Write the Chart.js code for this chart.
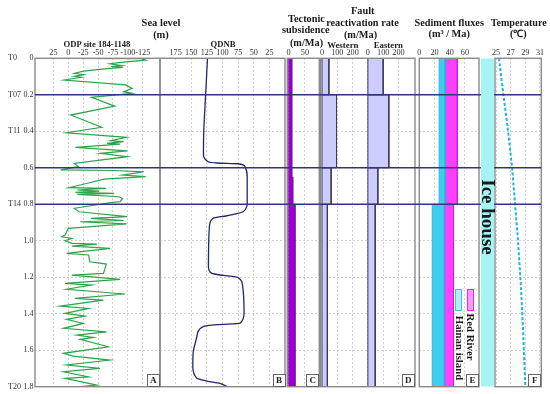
<!DOCTYPE html>
<html><head><meta charset="utf-8">
<script src="https://cdn.jsdelivr.net/npm/chart.js@4.4.1/dist/chart.umd.min.js"></script>
<style>
html,body{margin:0;padding:0;background:#fff;}
#wrap{position:relative;width:550px;height:394px;overflow:hidden;font-family:'Liberation Serif','Times New Roman',serif;}
#wrap canvas{position:absolute;left:0;top:0;}
.t{position:absolute;transform:translate(-50%,-50%);white-space:nowrap;font-weight:bold;color:#1a1a1a;line-height:1;z-index:10;}
.r{position:absolute;transform:translate(-50%,-50%) rotate(90deg);white-space:nowrap;font-weight:bold;color:#1a1a1a;line-height:1;z-index:10;}
.lb{position:absolute;border:1px solid #666;background:#fff;font-weight:bold;font-size:9px;line-height:10px;text-align:center;box-sizing:border-box;z-index:10;color:#222;}
.lg{position:absolute;box-sizing:border-box;z-index:10;}
</style></head>
<body>
<div id="wrap">
<canvas id="cA" width="550" height="394" style="z-index:1"></canvas>
<canvas id="cB" width="550" height="394" style="z-index:1"></canvas>
<canvas id="cC" width="550" height="394" style="z-index:1"></canvas>
<canvas id="cD" width="550" height="394" style="z-index:1"></canvas>
<canvas id="cE" width="550" height="394" style="z-index:1"></canvas>
<canvas id="cF" width="550" height="394" style="z-index:1"></canvas>
<canvas id="cL" width="550" height="394" style="z-index:2"></canvas>
<canvas id="cI" width="550" height="394" style="z-index:3"></canvas>

<div class="t" style="left:161px;top:22.5px;font-size:10.5px">Sea level</div>
<div class="t" style="left:161px;top:35px;font-size:10.5px">(m)</div>
<div class="t" style="left:97px;top:44px;font-size:8.6px">ODP site 184-1148</div>
<div class="t" style="left:223px;top:43.5px;font-size:8.6px">QDNB</div>
<div class="t" style="left:306.5px;top:18.8px;font-size:10.3px">Tectonic</div>
<div class="t" style="left:305.8px;top:30.3px;font-size:10.3px">subsidence</div>
<div class="t" style="left:306.5px;top:43px;font-size:10.3px">(m/Ma)</div>
<div class="t" style="left:362.8px;top:11.2px;font-size:10.3px">Fault</div>
<div class="t" style="left:362.5px;top:23.3px;font-size:10.3px">reactivation rate</div>
<div class="t" style="left:360.5px;top:35.3px;font-size:10.3px">(m/Ma)</div>
<div class="t" style="left:342.8px;top:44.5px;font-size:8.8px">Western</div>
<div class="t" style="left:388.3px;top:44.5px;font-size:8.8px">Eastern</div>
<div class="t" style="left:449.2px;top:22.5px;font-size:10.3px">Sediment fluxes</div>
<div class="t" style="left:449.2px;top:34.2px;font-size:10.3px">(m³ / Ma)</div>
<div class="t" style="left:518.7px;top:22.5px;font-size:10.1px">Temperature</div>
<div class="t" style="left:518.3px;top:34.2px;font-size:10.1px">(℃)</div>

<div class="r" style="left:487.5px;top:216.5px;font-size:19px">Ice house</div>

<div class="lg" style="left:455px;top:289px;width:7px;height:22px;background:#b6eef8;border:1px solid #38c8e8"></div>
<div class="lg" style="left:467.3px;top:289px;width:7px;height:22px;background:#ff9cff;border:1px solid #ee22ee"></div>
<div class="r" style="left:460px;top:348px;font-size:10.8px">Hainan island</div>
<div class="r" style="left:471px;top:336.5px;font-size:10.8px">Red River</div>

<div class="lb" style="left:146.7px;top:374px;width:13px;height:12.5px">A</div>
<div class="lb" style="left:272.5px;top:374px;width:13px;height:12.5px">B</div>
<div class="lb" style="left:306.3px;top:374px;width:13px;height:12.5px">C</div>
<div class="lb" style="left:401.5px;top:374px;width:13.5px;height:12.5px">D</div>
<div class="lb" style="left:466px;top:374px;width:13px;height:12.5px">E</div>
<div class="lb" style="left:528.3px;top:374px;width:13px;height:12.5px">F</div>
</div>

<script>
// ---------------- DATA ----------------
const depthTicks = [0, 0.2, 0.4, 0.6, 0.8, 1.0, 1.2, 1.4, 1.6, 1.8];
const horizonNames = ['T0', 'T07', 'T11', 'T14', 'T20'];
const horizonNameDepths = [0, 0.2, 0.4, 0.8, 1.8];
const horizonLineDepths = [0.2, 0.6, 0.8];

// A: ODP site 184-1148 sea level (m)
const odpTicks = [25, 0, -25, -50, -75, -100, -125];
const odpValues = [5, -122, -130, -88, -70, -90, -72, -92, -60, -26, -10, -26, -10, -22, 7, -96, -107, -93, -107, -39, -78, -4, -56, 3, -98, -71, -93, -65, -87, -12, -99, -54, -99, -10, -17, 13, -77, -127, -91, -130, -60, -32, -1, -63, -15, -52, -12, -77, -15, -85, -91, -87, -74, -10, -18, -99, -38, -93, -20, -98, 0, 5.5, 11, -6, 5.5, -6, -48, -6, -70, 3, -34, -36, -64, -59, -6, -87, 5.5, -39, 3, -95, -11, -59, 14, -34, 5.5, -28, 3, -25, 8, -64, -14, -42, -20, -67, 8, -8, -70, 3, -53, 8, -34, 5.5, -48, -20];
const odpDepths = [0, 0.002, 0.01, 0.022, 0.03, 0.04, 0.045, 0.05, 0.058, 0.07, 0.082, 0.09, 0.098, 0.104, 0.119, 0.146, 0.165, 0.183, 0.192, 0.214, 0.262, 0.311, 0.378, 0.408, 0.433, 0.452, 0.457, 0.466, 0.47, 0.488, 0.507, 0.521, 0.539, 0.576, 0.594, 0.612, 0.615, 0.622, 0.64, 0.649, 0.662, 0.685, 0.709, 0.713, 0.722, 0.728, 0.735, 0.74, 0.746, 0.759, 0.768, 0.786, 0.79, 0.822, 0.841, 0.868, 0.877, 0.889, 0.896, 0.908, 0.932, 0.969, 0.978, 0.987, 1.0, 1.014, 1.018, 1.029, 1.042, 1.069, 1.078, 1.115, 1.128, 1.179, 1.188, 1.212, 1.234, 1.243, 1.266, 1.292, 1.316, 1.325, 1.358, 1.371, 1.398, 1.413, 1.431, 1.453, 1.48, 1.499, 1.517, 1.53, 1.541, 1.581, 1.617, 1.632, 1.654, 1.681, 1.7, 1.718, 1.746, 1.754, 1.791, 1.8];

// B: QDNB sea level (m)
const qdnbTicks = [175, 150, 125, 100, 75, 50, 25];
const qdnbValues = [124, 127, 130, 130.5, 123, 109, 75, 64, 60.5, 60.5, 67, 93, 115, 121, 122.5, 117, 99, 76, 68, 65.5, 72, 109, 131, 141, 147, 147.5, 141, 125, 104, 93];
const qdnbDepths = [0, 0.2, 0.4, 0.52, 0.567, 0.574, 0.578, 0.594, 0.65, 0.795, 0.841, 0.863, 0.877, 0.923, 1.142, 1.179, 1.19, 1.2, 1.243, 1.398, 1.452, 1.46, 1.471, 1.526, 1.617, 1.691, 1.754, 1.769, 1.782, 1.8];

// C: tectonic subsidence (m/Ma)
const subsTicks = [0, 50];
const subsTops = [0, 0.65, 0.8];
const subsBottoms = [0.65, 0.8, 1.8];
const subsRates = [10, 13, 20];

// D: fault reactivation rate (m/Ma)
const faultTickLabels = [0, 100, 200];
const faultTops = [0, 0.2, 0.6, 0.8];
const faultBottoms = [0.2, 0.6, 0.8, 1.8];
const westernRates = [45, 95, 60, 35];
const easternRates = [100, 137, 65, 48];

// E: sediment fluxes (m3/Ma)
const fluxTicks = [0, 20, 40, 60];
const fluxTops = [0, 0.8];
const fluxBottoms = [0.8, 1.8];
const hainanLow = [26, 17];
const hainanHigh = [34, 33];
const redRiverLow = [34, 33];
const redRiverHigh = [50, 45];

// Ice house interval
const iceHouseTop = 0;
const iceHouseBottom = 1.8;

// F: temperature (C)
const tempTicks = [25, 27, 29, 31];
const tempValues = [25.4, 26.0, 26.5, 27.2, 27.6, 28.0, 28.4, 28.7, 29.0];
const tempDepths = [0, 0.2, 0.35, 0.6, 0.8, 1.0, 1.25, 1.5, 1.8];

// ---------------- LAYOUT / STYLE ----------------
const FONT = "'Liberation Serif', 'Times New Roman', serif";
Chart.defaults.font.family = FONT;
Chart.defaults.animation = false;
Chart.defaults.events = [];
const W = 550, H = 394, TOP = 58.3, BOTTOM = 386.7, XAXIS_H = 12;
const EAST_OFFSET = 300;
const GRID = '#d2d2d2';
const TICK_SIZE = 8.2;

const framePlugin = {
  id: 'frame',
  afterDatasetsDraw(chart) {
    const a = chart.chartArea, ctx = chart.ctx;
    ctx.save();
    ctx.strokeStyle = '#8a8a8a';
    ctx.lineWidth = 1.4;
    ctx.strokeRect(a.left, a.top, a.right - a.left, a.bottom - a.top);
    ctx.restore();
  }
};

function pts(xs, ys) { return xs.map((v, i) => ({x: v, y: ys[i]})); }
function rect(x0, x1, y0, y1) {
  return [{x: x0, y: y0}, {x: x1, y: y0}, {x: x1, y: y1}, {x: x0, y: y1}, {x: x0, y: y0}];
}
function rectSet(x0, x1, y0, y1, fillC, borderC, bw) {
  return {data: rect(x0, x1, y0, y1), showLine: true, fill: 'shape', backgroundColor: fillC,
    borderColor: borderC, borderWidth: bw, pointRadius: 0, tension: 0};
}

function depthAxis(showLabels) {
  return {
    type: 'linear', min: 0, max: 1.8, reverse: true,
    afterBuildTicks: s => { s.ticks = depthTicks.map(v => ({value: v})); },
    afterFit: s => { s.width = showLabels ? 13 : 0; },
    grid: {color: GRID, lineWidth: 1, drawTicks: false},
    border: {display: false, dash: [2, 2]},
    ticks: {display: showLabels, padding: 1.5, font: {size: 8}, color: '#333',
      callback: v => (Math.abs(v) < 1e-9 ? '0' : Number(v).toFixed(1))}
  };
}
function topAxis(min, max, reverse, tickVals, cb) {
  return {
    type: 'linear', position: 'top', min, max, reverse,
    afterBuildTicks: s => { s.ticks = tickVals.map(v => ({value: v})); },
    afterFit: s => { s.height = XAXIS_H; },
    grid: {color: GRID, lineWidth: 1, drawTicks: false},
    border: {display: false, dash: [2, 2]},
    ticks: {padding: 1, autoSkip: false, maxRotation: 0, minRotation: 0,
      font: {size: TICK_SIZE}, color: '#333', callback: cb || (v => String(v))}
  };
}

function panel(id, left, right, type, datasets, xAxis, opts = {}) {
  const scales = Object.assign({x: xAxis, y: depthAxis(!!opts.labels)}, opts.extraScales || {});
  return new Chart(document.getElementById(id), {
    type,
    data: {datasets},
    options: {
      responsive: false, animation: false,
      indexAxis: opts.indexAxis || 'x',
      layout: {padding: {left: opts.padLeft !== undefined ? opts.padLeft : left, right: W - right,
        top: TOP - XAXIS_H, bottom: H - BOTTOM}},
      scales,
      plugins: {legend: {display: false}, tooltip: {enabled: false}}
    },
    plugins: [framePlugin]
  });
}

// A
panel('cA', 35, 160, 'scatter', [{
  data: pts(odpValues, odpDepths), showLine: true, borderColor: '#2ca54a', borderWidth: 1.2,
  pointRadius: 0, tension: 0, fill: false
}], topAxis(-154, 56, true, odpTicks), {
  labels: true, padLeft: 8,
  extraScales: {
    yT: {type: 'linear', position: 'left', weight: 1, min: 0, max: 1.8, reverse: true,
      afterBuildTicks: s => { s.ticks = horizonNameDepths.map(v => ({value: v})); },
      afterFit: s => { s.width = 14; },
      grid: {display: false, drawTicks: false}, border: {display: false},
      ticks: {crossAlign: 'far', padding: 0, font: {size: 8}, color: '#333',
        callback: (v, i) => horizonNames[i]}}
  }
});

// B
panel('cB', 160, 285, 'line', [{
  data: pts(qdnbValues, qdnbDepths), borderColor: '#25256f', borderWidth: 1.3,
  pointRadius: 0, cubicInterpolationMode: 'monotone', fill: false
}], topAxis(0, 200, true, qdnbTicks), {indexAxis: 'y'});

// C
panel('cC', 287.3, 319.3, 'scatter',
  subsRates.map((r, i) => rectSet(0, r, subsTops[i], subsBottoms[i], '#9a00d2', '#7a00a6', 0.6)),
  topAxis(-4, 94, false, subsTicks));

// D
const dSets = [];
westernRates.forEach((r, i) => dSets.push(rectSet(0, r, faultTops[i], faultBottoms[i], '#ccccff', '#3a3a5a', 1)));
easternRates.forEach((r, i) => dSets.push(rectSet(EAST_OFFSET, EAST_OFFSET + r, faultTops[i], faultBottoms[i], '#ccccff', '#3a3a5a', 1)));
const dTickVals = faultTickLabels.concat(faultTickLabels.map(v => v + EAST_OFFSET));
panel('cD', 320.7, 415, 'scatter', dSets,
  topAxis(-8.5, 608, false, dTickVals, v => String(v % EAST_OFFSET)));

// E
const eSets = [];
fluxTops.forEach((t, i) => eSets.push(rectSet(hainanLow[i], hainanHigh[i], t, fluxBottoms[i], '#3ccdf0', '#22b0dd', 0.8)));
fluxTops.forEach((t, i) => eSets.push(rectSet(redRiverLow[i], redRiverHigh[i], t, fluxBottoms[i], '#ff40ff', '#e010e0', 0.8)));
panel('cE', 419.3, 479, 'scatter', eSets, topAxis(0, 78.5, false, fluxTicks));

// F
panel('cF', 495, 541.3, 'scatter', [{
  data: pts(tempValues, tempDepths), showLine: true, borderColor: '#1fb2e6', borderWidth: 2,
  borderDash: [3, 2], pointRadius: 0, tension: 0, fill: false
}], topAxis(24.86, 31.18, false, tempTicks));

// Horizon lines overlay
function bareChart(id, left, right, datasets, xmin, xmax) {
  return new Chart(document.getElementById(id), {
    type: 'scatter',
    data: {datasets},
    options: {
      responsive: false, animation: false,
      layout: {padding: {left, right: W - right, top: TOP, bottom: H - BOTTOM}},
      scales: {
        x: {type: 'linear', display: false, min: xmin, max: xmax},
        y: {type: 'linear', display: false, min: 0, max: 1.8, reverse: true}
      },
      plugins: {legend: {display: false}, tooltip: {enabled: false}}
    }
  });
}
bareChart('cL', 35, 541.3, horizonLineDepths.map(d => ({
  data: [{x: 0, y: d}, {x: 1, y: d}], showLine: true, borderColor: '#34347e', borderWidth: 1.5,
  pointRadius: 0, fill: false
})), 0, 1);

// Ice house band
bareChart('cI', 480.7, 494.3, [rectSet(0, 1, iceHouseTop, iceHouseBottom, '#a6f5f6', 'rgba(0,0,0,0)', 0)], 0, 1);
</script>
</body></html>
